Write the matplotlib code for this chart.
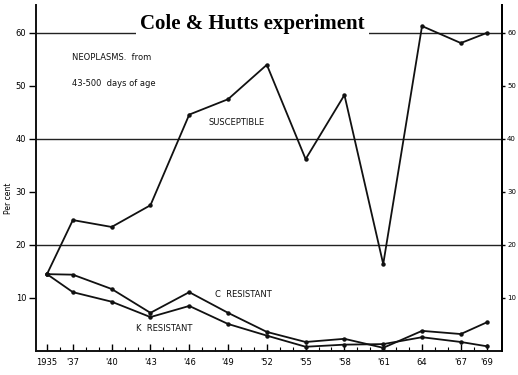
import matplotlib
matplotlib.use("Agg")
import matplotlib.pyplot as plt

years = [1935, 1937, 1940, 1943, 1946, 1949, 1952, 1955, 1958, 1961, 1964, 1967, 1969]
year_labels = ["1935", "'37", "'40", "'43", "'46", "'49", "'52", "'55", "'58", "'61", "64", "'67", "'69"]
susceptible = [14.5, 24.7, 23.4, 27.5, 44.6, 47.5, 54.0, 36.2, 48.3, 16.4, 61.3, 58.1, 60.0]
c_resistant = [14.5, 14.4, 11.7, 7.2, 11.1, 7.2, 3.6, 1.7, 2.3, 0.6, 3.8, 3.2, 5.4]
k_resistant = [14.5, 11.1, 9.3, 6.4, 8.5, 5.1, 2.9, 0.8, 1.2, 1.3, 2.6, 1.7, 0.9]
y_ticks = [10, 20, 30, 40, 50, 60]
grid_levels = [20, 40, 60]

fig = plt.figure(figsize=(5.18, 3.75), dpi=100)
ax = fig.add_axes([0.0695, 0.064, 0.900, 0.923])
ax.set_xlim(1934.15, 1970.2)
ax.set_ylim(0, 65.3)

for g in grid_levels:
    ax.axhline(g, color="#222222", lw=1.0, zorder=1)

for series in (susceptible, c_resistant, k_resistant):
    ax.plot(years, series, color="#111111", lw=1.3, marker="o", ms=2.2, zorder=3)

ax.spines["top"].set_visible(False)
for s in ("left", "bottom", "right"):
    ax.spines[s].set_linewidth(1.4)
    ax.spines[s].set_color("#111111")

ax.set_xticks(years)
ax.set_xticklabels(year_labels, fontsize=6)
ax.set_xticks(list(range(1935, 1970)), minor=True)
ax.tick_params(axis="x", which="major", direction="in", length=5, width=1, pad=5)
ax.tick_params(axis="x", which="minor", direction="in", length=3, width=0.8)

ax.set_yticks(y_ticks)
ax.set_yticklabels([str(v) for v in y_ticks], fontsize=6)
ax.tick_params(axis="y", direction="out", length=5, width=1, pad=2)

ax2 = ax.twinx()
ax2.set_ylim(ax.get_ylim())
ax2.set_yticks(y_ticks)
ax2.set_yticklabels([str(v) for v in y_ticks], fontsize=5)
ax2.tick_params(axis="y", direction="out", length=2.5, width=1, pad=1)
for s in ("top", "left", "bottom"):
    ax2.spines[s].set_visible(False)
ax2.spines["right"].set_linewidth(1.4)

fig.text(0.016, 0.47, "Per cent", fontsize=5.5, rotation=90, ha="center", va="center")

txt = dict(fontsize=6, color="#111111", family="DejaVu Sans")
ax.text(1936.9, 55.3, "NEOPLASMS.  from", va="center", ha="left", **txt)
ax.text(1936.9, 50.4, "43-500  days of age", va="center", ha="left", **txt)
ax.text(1947.5, 43.2, "SUSCEPTIBLE", va="center", ha="left", **txt)
ax.text(1948.0, 10.6, "C  RESISTANT", va="center", ha="left", **txt)
ax.text(1941.9, 4.3, "K  RESISTANT", va="center", ha="left", **txt)

fig.text(0.488, 0.935, "Cole & Hutts experiment", fontsize=15, fontweight="bold",
         family="Liberation Serif", ha="center", va="center", zorder=10,
         bbox=dict(facecolor="white", edgecolor="none", pad=3))

fig.savefig("out.png", dpi=100)
